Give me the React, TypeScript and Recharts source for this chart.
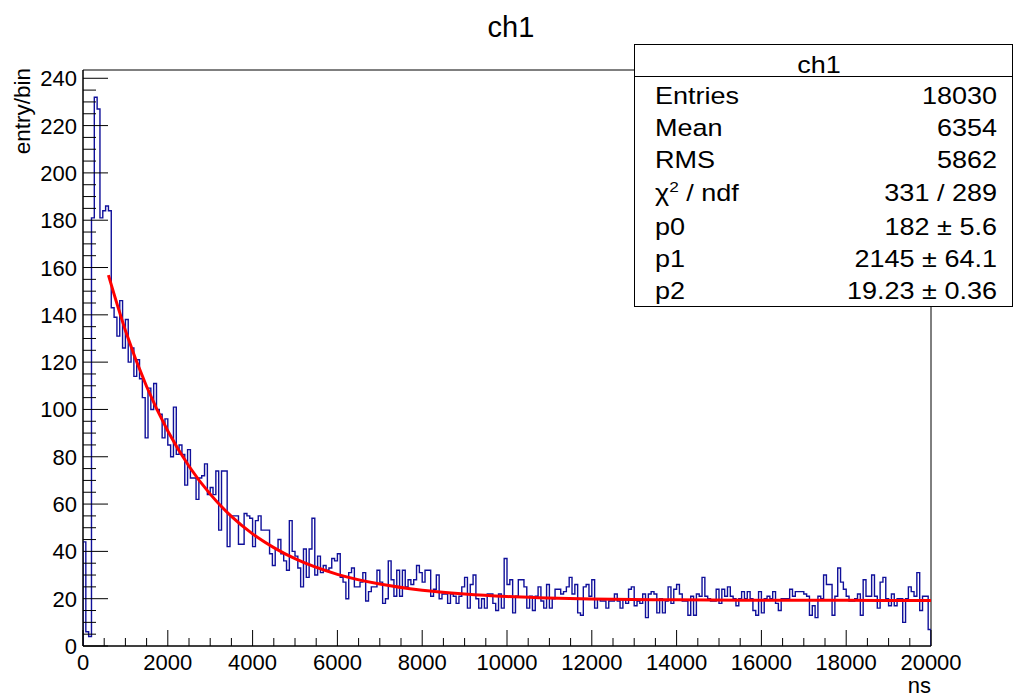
import { ComposedChart, Line, XAxis, YAxis, ReferenceArea } from "recharts";

// histogram ch1: 300 bins over 0..20000 ns, entries per bin
const xMax = 20000;
const counts = [
  44, 6, 4, 181, 232, 227, 181, 184, 186, 184,
  143, 139, 131, 146, 126, 138, 120, 126, 114, 121,
  113, 105, 88, 109, 100, 111,
  100, 98, 88, 96, 85, 80, 101, 81, 85, 81,
  68, 83, 71, 71, 62, 71, 72, 77, 64, 67,
  64, 74, 49, 74, 74, 42, 55, 55, 55, 43,
  43, 56, 55, 54, 42, 53, 55, 49, 49, 49,
  39, 34, 41, 45, 39, 36, 32, 53, 40, 38,
  33, 25, 41, 29, 41, 54, 30, 38, 31, 34,
  32, 33, 37, 36, 39, 29, 27, 20, 31, 33,
  25, 25, 27, 31, 19, 23, 25, 25, 32, 27,
  18, 20, 36, 28, 21, 32, 21, 32, 25, 28,
  26, 28, 34, 31, 27, 32, 32, 21, 24, 30,
  20, 22, 22, 18, 22, 21, 18, 21, 25, 29,
  16, 26, 30, 20, 16, 20, 16, 22, 22, 18,
  15, 22, 16, 37, 26, 28, 14, 21, 28, 28,
  25, 16, 21, 15, 21, 25, 19, 16, 26, 16,
  20, 24, 24, 22, 23, 25, 29, 22, 26, 14,
  13, 25, 26, 21, 28, 16, 20, 19, 19, 16,
  19, 19, 22, 19, 16, 20, 18, 24, 25, 17,
  19, 18, 22, 12, 22, 23, 22, 14, 20, 14,
  19, 25, 18, 24, 26, 22, 19, 19, 13, 21,
  13, 22, 21, 29, 21, 20, 19, 19, 24, 18,
  24, 21, 25, 21, 20, 17, 20, 23, 20, 23,
  20, 15, 13, 23, 14, 20, 21, 20, 23, 18,
  15, 20, 20, 20, 24, 21, 23, 23, 23, 22,
  21, 13, 17, 12, 21, 20, 30, 26, 26, 13,
  21, 33, 27, 24, 21, 19, 19, 20, 22,
  13, 28, 21, 21, 30, 21, 16, 27, 29, 20,
  17, 22, 17, 20, 20, 10, 20, 25, 23, 21,
  31, 15, 21, 21, 7,
];

// red fit curve, sampled along the drawn line
const fitT = [600, 1000, 1500, 2000, 2500, 3000, 3500, 4000, 4500, 5000, 6000, 7000, 8000, 9000, 10000, 12000, 14000, 16000, 18000, 20000];
const fitV = [156.8, 133.4, 109.7, 90.9, 76.0, 64.2, 54.8, 47.4, 41.6, 36.9, 30.3, 26.2, 23.6, 22.0, 20.9, 19.9, 19.5, 19.3, 19.3, 19.2];

const yMax = 243.5;
const yTicks = Array.from({ length: 49 }, (_, i) => i * 5);
const xTicks = Array.from({ length: 41 }, (_, i) => i * 500);

const statsRows = [
  ["Entries", "18030"],
  ["Mean", "6354"],
  ["RMS", "5862"],
  ["chi", "331 / 289"],
  ["p0", "182 \u00b1 5.6"],
  ["p1", "2145 \u00b1 64.1"],
  ["p2", "19.23 \u00b1 0.36"],
];
const statsBase = [104, 136, 168.3, 200.7, 235, 266.7, 299];

const font = "'Liberation Sans', Arial, Helvetica, sans-serif";

const binW = xMax / counts.length;
const histData = [
  { x: 0, y: 0 },
  ...counts.map((c, i) => ({ x: i * binW, y: c })),
  { x: xMax, y: counts[counts.length - 1] },
  { x: xMax, y: 0 },
];
const fitData = fitT.map((t, i) => ({ x: t, y: fitV[i] }));

function YTick(props: any) {
  const { x, y, payload } = props;
  const v = payload.value;
  const major = v % 20 === 0;
  return (
    <g>
      <line x1={x} x2={x + (major ? 25 : 13)} y1={y} y2={y} stroke="#000" />
      {major && (
        <text x={x - 6} y={y + 8} textAnchor="end" fontSize={22} fontFamily={font} fill="#000">
          {v}
        </text>
      )}
    </g>
  );
}

function XTick(props: any) {
  const { x, y, payload } = props;
  const v = payload.value;
  const major = v % 2000 === 0;
  return (
    <g>
      <line x1={x} x2={x} y1={y} y2={y - (major ? 16 : 8)} stroke="#000" />
      {major && (
        <text x={x} y={y + 24} textAnchor="middle" fontSize={22} fontFamily={font} fill="#000">
          {v}
        </text>
      )}
    </g>
  );
}

function Stx({ x, y, anchor, children }: any) {
  return (
    <text transform={`translate(${x},${y}) scale(1.15,1)`} textAnchor={anchor} fontSize={23.5} fontFamily={font} fill="#000">
      {children}
    </text>
  );
}

export default function App() {
  return (
    <div style={{ position: "absolute", left: 0, top: 0, width: 1014, height: 698, background: "#fff" }}>
      <ComposedChart width={1014} height={698} margin={{ top: 70, right: 83, bottom: 0, left: 0 }}>
        <XAxis
          dataKey="x"
          type="number"
          domain={[0, xMax]}
          ticks={xTicks}
          interval={0}
          tickSize={0}
          tickMargin={0}
          tickLine={false}
          tick={<XTick />}
          height={52}
          axisLine={{ stroke: "#000" }}
          allowDataOverflow
        />
        <YAxis
          type="number"
          domain={[0, yMax]}
          ticks={yTicks}
          interval={0}
          tickSize={0}
          tickMargin={0}
          tickLine={false}
          tick={<YTick />}
          width={83}
          axisLine={{ stroke: "#000" }}
          allowDataOverflow
        />
        <ReferenceArea x1={0} x2={xMax} y1={0} y2={yMax} fill="none" stroke="#000" strokeWidth={1} />
        <Line
          data={histData}
          dataKey="y"
          type="stepAfter"
          stroke="#10109a"
          strokeWidth={1.4}
          dot={false}
          isAnimationActive={false}
        />
        <Line
          data={fitData}
          dataKey="y"
          type="monotone"
          stroke="#ff0000"
          strokeWidth={3}
          dot={false}
          isAnimationActive={false}
        />
      </ComposedChart>
      <svg width={1014} height={698} style={{ position: "absolute", left: 0, top: 0, pointerEvents: "none" }}>
        <text x={511} y={37} textAnchor="middle" fontSize={29} fontFamily={font} fill="#000">ch1</text>
        <text transform="translate(30,68) rotate(-90)" textAnchor="end" fontSize={22.5} fontFamily={font} fill="#000">entry/bin</text>
        <text x={931} y={693} textAnchor="end" fontSize={22} fontFamily={font} fill="#000">ns</text>
        <rect x={634.5} y={44.5} width={378} height={262} fill="#fff" stroke="#000" strokeWidth={1} />
        <line x1={634.5} x2={1012.5} y1={76.5} y2={76.5} stroke="#000" />
        <Stx x={819} y={73} anchor="middle">ch1</Stx>
        {statsRows.map((r, i) => (
          <g key={r[0]}>
            <Stx x={655} y={statsBase[i]} anchor="start">
              {r[0] === "chi" ? (
                <>
                  {"\u03c7"}
                  <tspan fontSize={15} dy={-9}>2</tspan>
                  <tspan dy={9}>{" / ndf"}</tspan>
                </>
              ) : (
                r[0]
              )}
            </Stx>
            <Stx x={997} y={statsBase[i]} anchor="end">{r[1]}</Stx>
          </g>
        ))}
      </svg>
    </div>
  );
}
